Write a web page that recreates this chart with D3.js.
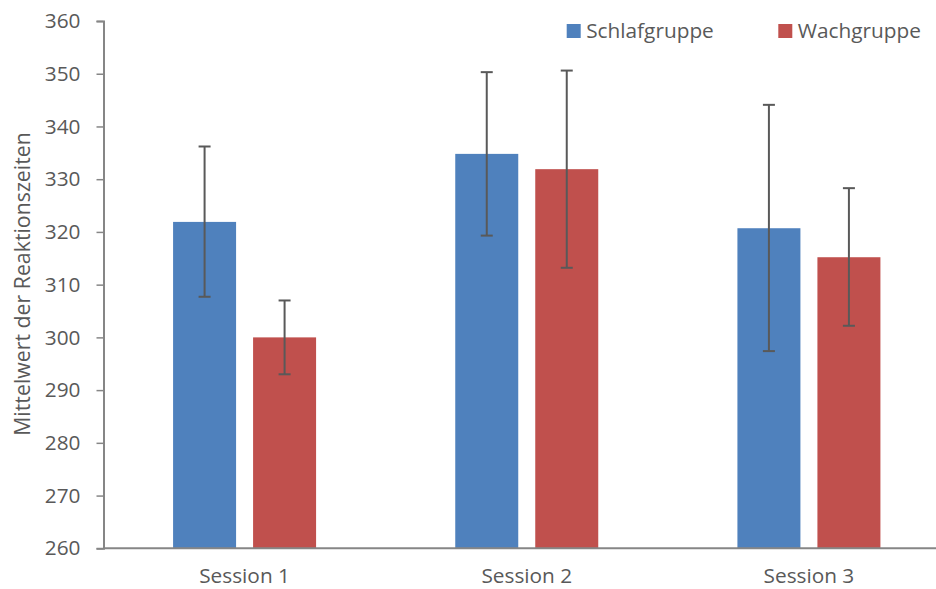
<!DOCTYPE html>
<html><head><meta charset="utf-8">
<script src="https://cdn.jsdelivr.net/npm/d3@7"></script>
<style>body{margin:0;background:#fff}text{font-family:"Open Sans",sans-serif;fill:#595959}</style>
</head><body><svg id="c" width="936" height="589"></svg>
<script>
const categories = ["Session 1", "Session 2", "Session 3"];
const seriesNames = ["Schlafgruppe", "Wachgruppe"];
const schlafMean = [321.9, 334.8, 320.7];
const schlafLow  = [307.7, 319.3, 297.4];
const schlafHigh = [336.2, 350.3, 344.1];
const wachMean   = [300.0, 331.9, 315.2];
const wachLow    = [293.0, 313.2, 302.2];
const wachHigh   = [307.0, 350.6, 328.3];
const yTicks = [260, 270, 280, 290, 300, 310, 320, 330, 340, 350, 360];
const colors = ["#4F81BD", "#C0504D"];

const svg = d3.select("#c");
const pLeft = 103.5, pRight = 950, pTop = 21, pBottom = 548.3;
const fs = 20.8;
const y = d3.scaleLinear().domain([260, 360]).range([pBottom, pTop]);
const x0 = d3.scaleBand().domain(categories).range([pLeft, pRight]).paddingInner(0).paddingOuter(0);
const bw = 63, gap = 17;
const x1 = d3.scaleOrdinal().domain(seriesNames).range([-(bw + gap / 2), gap / 2]);

const data = [];
categories.forEach((c, i) => {
  data.push({c, s: seriesNames[0], m: schlafMean[i], lo: schlafLow[i], hi: schlafHigh[i], col: colors[0]});
  data.push({c, s: seriesNames[1], m: wachMean[i], lo: wachLow[i], hi: wachHigh[i], col: colors[1]});
});

// bars
svg.append("g").selectAll("rect").data(data).join("rect")
  .attr("x", d => x0(d.c) + x0.bandwidth() / 2 + x1(d.s))
  .attr("y", d => y(d.m))
  .attr("width", bw)
  .attr("height", d => y(260) - y(d.m))
  .attr("fill", d => d.col);

// y axis
const ya = d3.axisLeft(y).tickValues(yTicks).tickSize(7).tickPadding(16).tickFormat(d3.format("d"));
const gy = svg.append("g").attr("transform", `translate(${pLeft},0)`).call(ya);
gy.select(".domain").attr("stroke", "#868686").attr("stroke-width", 2);
gy.selectAll(".tick line").attr("stroke", "#868686").attr("stroke-width", 1.5);
gy.selectAll(".tick text").attr("font-size", fs).attr("fill", "#595959").style("font-family", "'Open Sans',sans-serif");

// x axis line
svg.append("line").attr("x1", pLeft).attr("x2", 936).attr("y1", y(260)).attr("y2", y(260))
  .attr("stroke", "#868686").attr("stroke-width", 2);
svg.append("g").selectAll("text").data(categories).join("text")
  .attr("x", d => x0(d) + x0.bandwidth() / 2).attr("y", 583)
  .attr("text-anchor", "middle").attr("font-size", fs).text(d => d);

// error bars
const eb = svg.append("g").attr("stroke", "#595959").attr("stroke-width", 2);
data.forEach(d => {
  const cx = x0(d.c) + x0.bandwidth() / 2 + x1(d.s) + bw / 2;
  eb.append("line").attr("x1", cx).attr("x2", cx).attr("y1", y(d.hi)).attr("y2", y(d.lo));
  eb.append("line").attr("x1", cx - 6).attr("x2", cx + 6).attr("y1", y(d.hi)).attr("y2", y(d.hi));
  eb.append("line").attr("x1", cx - 6).attr("x2", cx + 6).attr("y1", y(d.lo)).attr("y2", y(d.lo));
});

// y title
svg.append("text").attr("transform", "translate(30,284) rotate(-90)")
  .attr("text-anchor", "middle").attr("font-size", 21.3).text("Mittelwert der Reaktionszeiten");

// legend
const legX = [566.7, 778.3];
const lg = svg.append("g");
seriesNames.forEach((s, i) => {
  lg.append("rect").attr("x", legX[i]).attr("y", 24).attr("width", 14).attr("height", 14).attr("fill", colors[i]);
  lg.append("text").attr("x", legX[i] + 19.5).attr("y", 38).attr("font-size", fs).text(s);
});
</script></body></html>
